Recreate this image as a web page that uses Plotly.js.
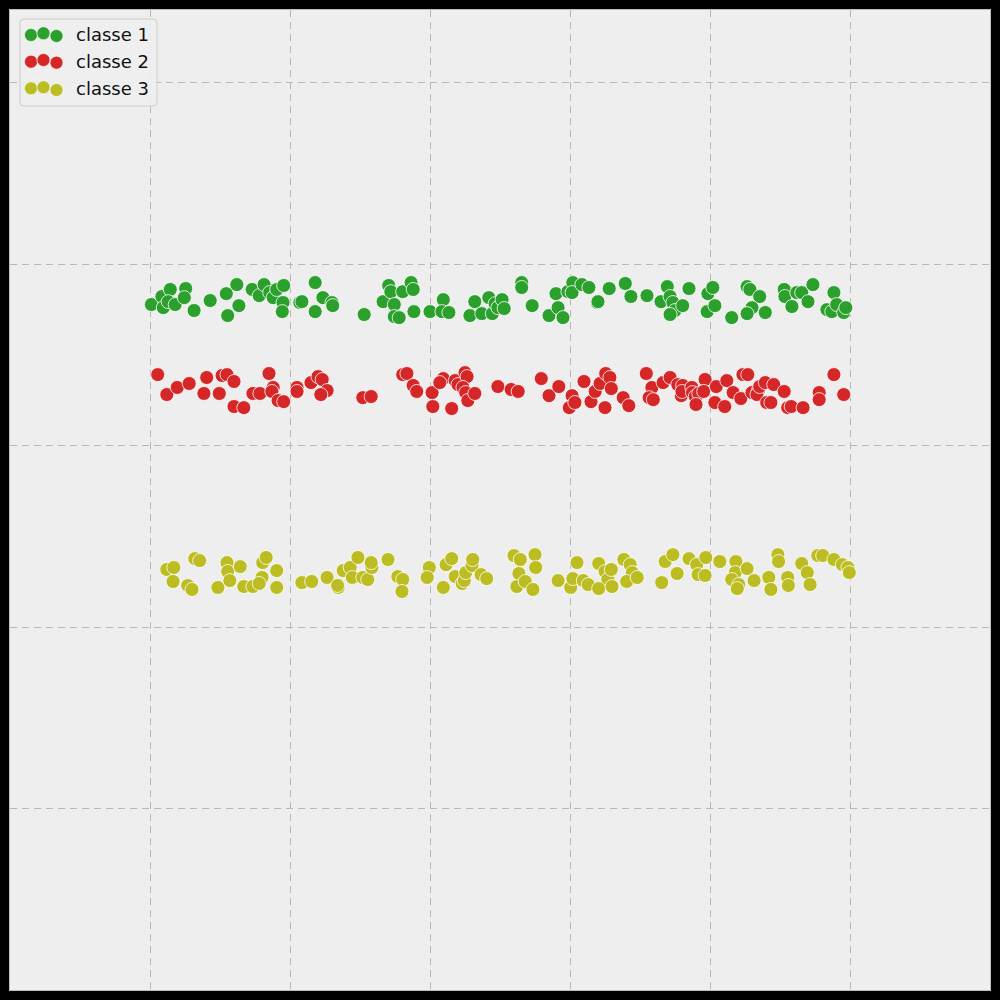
<!DOCTYPE html>
<html>
<head>
<meta charset="utf-8">
<script src="https://cdn.plot.ly/plotly-3.0.1.min.js"></script>
<style>html,body{margin:0;padding:0;background:#000;}#chart{width:1000px;height:1000px;}</style>
</head>
<body>
<div id="chart"></div>
<script>
const classNames = ["classe 1", "classe 2", "classe 3"];
const classColors = ["#2ca02c", "#d62728", "#bcbd22"];

const class1X = [0.002,0.017,0.029,0.019,0.026,0.036,0.051,0.049,0.063,0.086,
0.109,0.111,0.124,0.127,0.146,0.156,0.163,0.171,0.176,0.181,
0.191,0.190,0.189,0.214,0.217,0.236,0.247,0.260,0.261,0.236,
0.306,0.333,0.341,0.344,0.349,0.349,0.356,0.361,0.373,0.376,
0.377,0.400,0.419,0.417,0.427,0.464,0.457,0.474,0.484,0.489,
0.493,0.497,0.503,0.506,0.531,0.531,0.546,0.570,0.580,0.583,
0.590,0.597,0.604,0.603,0.617,0.627,0.639,0.640,0.656,0.679,
0.687,0.710,0.730,0.739,0.743,0.747,0.750,0.743,0.761,0.770,
0.797,0.804,0.796,0.807,0.831,0.853,0.857,0.871,0.860,0.853,
0.879,0.906,0.907,0.917,0.924,0.931,0.940,0.947,0.977,0.967,
0.974,0.981,0.991,0.994];
const class1Y = [2.777,2.821,2.860,2.760,2.793,2.777,2.865,2.815,2.744,2.799,
2.837,2.716,2.887,2.771,2.860,2.826,2.887,2.843,2.815,2.860,
2.882,2.788,2.738,2.788,2.793,2.898,2.815,2.788,2.771,2.738,
2.722,2.793,2.882,2.848,2.777,2.711,2.705,2.848,2.898,2.860,
2.738,2.738,2.804,2.738,2.733,2.793,2.716,2.727,2.815,2.727,
2.782,2.760,2.804,2.755,2.898,2.871,2.771,2.716,2.837,2.760,
2.705,2.848,2.898,2.843,2.887,2.871,2.788,2.793,2.865,2.893,
2.821,2.826,2.793,2.876,2.821,2.788,2.744,2.722,2.771,2.865,
2.837,2.871,2.738,2.771,2.705,2.876,2.860,2.821,2.760,2.727,
2.733,2.860,2.821,2.766,2.843,2.843,2.793,2.887,2.843,2.749,
2.738,2.777,2.733,2.760];

const class2X = [0.011,0.024,0.039,0.056,0.081,0.077,0.103,0.110,0.120,0.099,
0.120,0.134,0.147,0.157,0.170,0.176,0.174,0.183,0.191,0.210,
0.210,0.230,0.240,0.246,0.253,0.244,0.304,0.316,0.361,0.367,
0.376,0.381,0.403,0.404,0.419,0.414,0.431,0.436,0.440,0.450,
0.453,0.447,0.451,0.454,0.464,0.497,0.516,0.526,0.559,0.570,
0.584,0.603,0.599,0.607,0.620,0.630,0.636,0.643,0.651,0.657,
0.659,0.650,0.676,0.684,0.709,0.717,0.713,0.719,0.733,0.743,
0.754,0.761,0.759,0.760,0.774,0.775,0.779,0.784,0.780,0.793,
0.791,0.809,0.807,0.821,0.824,0.833,0.847,0.854,0.844,0.860,
0.869,0.867,0.871,0.879,0.891,0.881,0.887,0.906,0.911,0.916,
0.933,0.956,0.956,0.977,0.991];
const class2Y = [2.391,2.281,2.320,2.342,2.375,2.287,2.386,2.391,2.353,2.287,
2.215,2.209,2.287,2.287,2.397,2.320,2.298,2.248,2.242,2.320,
2.298,2.347,2.380,2.364,2.303,2.281,2.264,2.270,2.391,2.397,
2.331,2.298,2.292,2.215,2.369,2.347,2.204,2.358,2.336,2.402,
2.380,2.320,2.292,2.248,2.287,2.325,2.309,2.298,2.369,2.275,
2.325,2.275,2.209,2.237,2.353,2.242,2.298,2.342,2.397,2.375,
2.314,2.209,2.264,2.220,2.397,2.320,2.264,2.253,2.347,2.375,
2.336,2.331,2.275,2.298,2.320,2.292,2.270,2.287,2.226,2.364,
2.298,2.325,2.237,2.215,2.358,2.292,2.391,2.391,2.259,2.292,
2.303,2.281,2.325,2.347,2.336,2.237,2.237,2.298,2.209,2.215,
2.209,2.292,2.253,2.391,2.281];

const class3X = [0.024,0.034,0.033,0.054,0.060,0.064,0.071,0.097,0.110,0.111,
0.114,0.129,0.134,0.147,0.160,0.161,0.166,0.181,0.181,0.156,
0.217,0.231,0.253,0.269,0.268,0.276,0.286,0.289,0.297,0.304,
0.311,0.317,0.316,0.340,0.354,0.361,0.360,0.399,0.396,0.419,
0.423,0.431,0.436,0.446,0.449,0.451,0.460,0.461,0.473,0.481,
0.520,0.529,0.550,0.551,0.527,0.524,0.536,0.547,0.583,0.610,
0.601,0.604,0.619,0.626,0.641,0.650,0.654,0.659,0.641,0.660,
0.677,0.686,0.689,0.681,0.696,0.731,0.736,0.747,0.753,0.770,
0.781,0.783,0.794,0.793,0.814,0.837,0.836,0.831,0.841,0.839,
0.853,0.863,0.884,0.887,0.897,0.898,0.911,0.912,0.931,0.939,
0.943,0.954,0.961,0.977,0.989,0.997,0.999];
const class3Y = [1.317,1.328,1.251,1.229,1.207,1.377,1.366,1.218,1.355,1.306,
1.256,1.333,1.223,1.223,1.273,1.355,1.383,1.311,1.218,1.240,
1.245,1.251,1.273,1.218,1.229,1.311,1.328,1.273,1.383,1.273,
1.262,1.328,1.355,1.372,1.278,1.262,1.196,1.328,1.273,1.218,
1.344,1.377,1.278,1.240,1.256,1.300,1.339,1.372,1.289,1.267,
1.394,1.372,1.399,1.328,1.295,1.223,1.251,1.207,1.256,1.355,
1.218,1.267,1.256,1.234,1.350,1.306,1.262,1.317,1.212,1.223,
1.372,1.344,1.300,1.251,1.273,1.245,1.361,1.399,1.295,1.377,
1.344,1.289,1.383,1.284,1.361,1.361,1.300,1.262,1.234,1.212,
1.322,1.256,1.273,1.207,1.399,1.361,1.273,1.229,1.350,1.300,
1.234,1.394,1.394,1.372,1.344,1.328,1.300];

const seriesX = [class1X, class2X, class3X];
const seriesY = [class1Y, class2Y, class3Y];

const traces = classNames.map((name, i) => ({
  type: 'scatter', mode: 'markers', name: name,
  x: seriesX[i], y: seriesY[i],
  marker: {color: classColors[i], size: 14, line: {color: '#ffffff', width: 0.8}},
  hoverinfo: 'skip'
}));

// custom legend (three sample points per entry, like the reference)
const shapes = [];
const annotations = [];
shapes.push({
  type: 'path', xref: 'paper', yref: 'paper', xsizemode: 'pixel', ysizemode: 'pixel',
  xanchor: 0, yanchor: 1, layer: 'above',
  path: 'M 14,-9 H 143 Q 147,-9 147,-13 V -92 Q 147,-96 143,-96 H 14 Q 10,-96 10,-92 V -13 Q 10,-9 14,-9 Z',
  fillcolor: 'rgba(238,238,238,0.9)', line: {color: '#cccccc', width: 1}
});
const legOffsetsX = [21, 33.5, 46.5];
const legOffsetsY = [[-25, -23.3, -26], [-51.7, -50, -52.7], [-78.3, -77.3, -80]];
const legTextY = [-24.5, -51.5, -78.5];
classNames.forEach((name, i) => {
  legOffsetsX.forEach((ox, j) => {
    const oy = legOffsetsY[i][j];
    shapes.push({
      type: 'circle', xref: 'paper', yref: 'paper', xsizemode: 'pixel', ysizemode: 'pixel',
      xanchor: 0, yanchor: 1, layer: 'above',
      x0: ox - 6.5, x1: ox + 6.5, y0: oy - 6.5, y1: oy + 6.5,
      fillcolor: classColors[i], line: {color: '#ffffff', width: 0.6}
    });
  });
  annotations.push({
    xref: 'paper', yref: 'paper', x: 67 / 980, y: 1 + legTextY[i] / 980,
    xanchor: 'left', yanchor: 'middle', showarrow: false, xshift: -3,
    text: name, font: {family: 'DejaVu Sans', size: 18, color: '#111111'}
  });
});

const axisCommon = {
  showticklabels: false, ticks: '', zeroline: false,
  showgrid: true, gridcolor: '#b8b8b8', gridwidth: 1, griddash: '7px,5px',
  showline: true, mirror: true, linecolor: '#bcbcbc', linewidth: 1
};

const layout = {
  width: 1000, height: 1000,
  margin: {l: 10, r: 10, t: 10, b: 10, pad: 0},
  paper_bgcolor: '#000000', plot_bgcolor: '#eeeeee',
  showlegend: false,
  xaxis: Object.assign({range: [-0.2, 1.2], tick0: 0, dtick: 0.2}, axisCommon),
  yaxis: Object.assign({range: [-1, 4.4], tick0: 0, dtick: 1}, axisCommon),
  shapes: shapes, annotations: annotations,
  font: {family: 'DejaVu Sans'}
};

Plotly.newPlot('chart', traces, layout, {staticPlot: true, displayModeBar: false});
</script>
</body>
</html>
